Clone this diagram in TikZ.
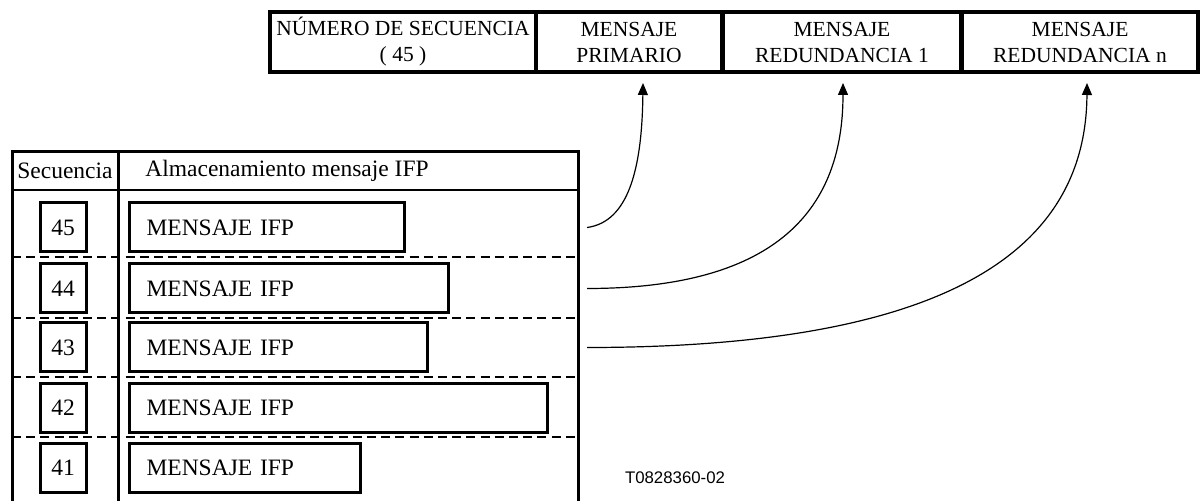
\documentclass[tikz,border=0pt]{standalone}
\usepackage{fontspec}
\setmainfont{Liberation Serif}
\newfontfamily\capfont{Liberation Sans}
\usetikzlibrary{arrows.meta}
\begin{document}
\begin{tikzpicture}[x=0.5pt,y=-0.5pt,
  field/.style={draw,line width=1.7pt,minimum height=30pt,inner sep=0pt,align=center,
    font=\fontsize{10.75}{13}\selectfont},
  frame/.style={line width=1.5pt},
  rowline/.style={line width=0.9pt,dash pattern=on 4.5pt off 2.6pt},
  seqbox/.style={draw,line width=1.5pt,minimum width=23pt,minimum height=24.5pt,inner sep=0pt,
    font=\fontsize{11.75}{14}\selectfont},
  msgbox/.style={draw,line width=1.5pt,anchor=west,inner xsep=8.5pt,inner ysep=0pt,
    minimum height=24.5pt,align=left,font=\fontsize{11.75}{14}\selectfont},
  headtext/.style={inner sep=0pt,font=\fontsize{11.75}{14}\selectfont},
  link/.style={line width=0.6pt,-{Triangle[length=6pt,width=5pt]}}]
\useasboundingbox (0,0) rectangle (1202,501);

% message format fields
\node[field,minimum width=133pt] (numseq) at (403,42) {NÚMERO DE SECUENCIA\\( 45 )};
\node[field,minimum width=93pt]  (prim)   at (629,42) {MENSAJE\\PRIMARIO};
\node[field,minimum width=119pt] (red1)   at (842,42) {MENSAJE\\REDUNDANCIA 1};
\node[field,minimum width=118pt] (redn)   at (1080,42) {MENSAJE\\REDUNDANCIA n};

% storage table: row separators first, then the frame on top
\foreach \y in {257,318,377,437}
  \draw[rowline] (12,\y) -- (578,\y);
\draw[frame] (12,501) -- (12,152) -- (578,152) -- (578,501);
\draw[line width=1.1pt] (12,190) -- (578,190);
\draw[frame] (118,152) -- (118,501);
\node[headtext] (hseq) at (65,171) {Secuencia};
\node[headtext,anchor=west] (hstore) at (145,171) {Almacenamiento mensaje IFP};

% stored messages, newest on top
\foreach \n/\y/\w in {45/227.5/275, 44/288.5/319, 43/347.5/298, 42/408/418, 41/467.5/231}{
  \node[seqbox] (s\n) at (63,\y) {\n};
  \node[msgbox,text width=\w*0.5pt-17pt] (m\n) at (128,\y) {MENSAJE IFP};
}

\node[inner sep=0pt,font=\capfont\fontsize{8.4}{10}\selectfont] (code) at (675,478) {T0828360-02};

% copies sent in each field
\coordinate (t45) at (587,227.5);
\coordinate (t44) at (587,288.5);
\coordinate (t43) at (587,347.5);
\coordinate (h1) at (643,83);
\coordinate (h2) at (843,83);
\coordinate (h3) at (1087,83);
\draw[link] (t45) .. controls (628,222) and (642,170) .. (h1);
\draw[link] (t44) .. controls (770,288.5) and (843,215) .. (h2);
\draw[link] (t43) .. controls (930,347.5) and (1086,260) .. (h3);
\end{tikzpicture}
\end{document}
